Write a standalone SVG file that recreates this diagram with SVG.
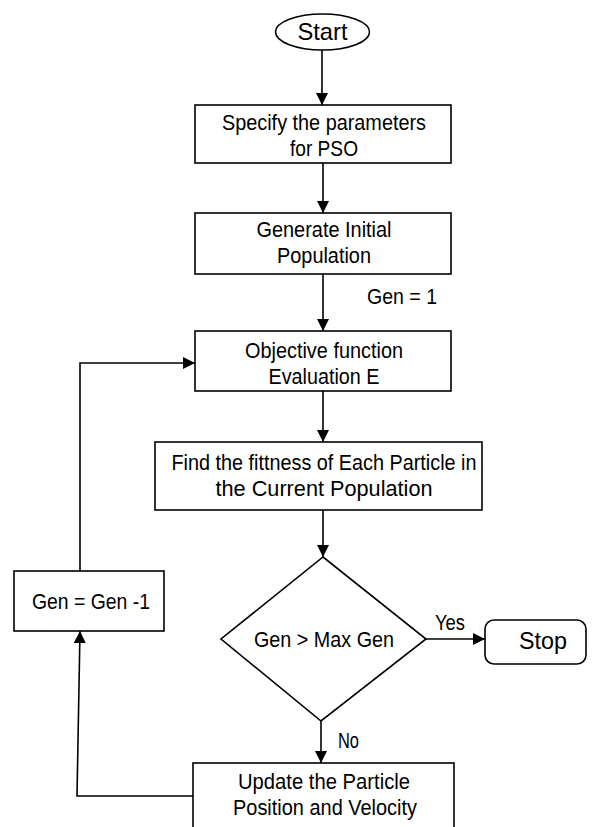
<svg xmlns="http://www.w3.org/2000/svg" width="595" height="827" viewBox="0 0 595 827">
<style>
.box{fill:#fff;stroke:#000;stroke-width:1.6}
.t{font-family:"Liberation Sans",Arial,sans-serif;font-size:22px;fill:#000;text-anchor:middle}
.big{font-size:24px}
.l{text-anchor:start}
.c{fill:none;stroke:#000;stroke-width:1.6}
</style>
<defs>
<marker id="ah" markerWidth="12" markerHeight="12" refX="12" refY="6" orient="auto" markerUnits="userSpaceOnUse">
<path d="M0,0 L12,6 L0,12 Z" fill="#000"/>
</marker>
</defs>
<g id="connectors">
<path class="c" d="M322,50 L322,105" marker-end="url(#ah)"/>
<path class="c" d="M323,163 L323,213" marker-end="url(#ah)"/>
<path class="c" d="M323,274 L323,331" marker-end="url(#ah)"/>
<path class="c" d="M323,391 L323,442" marker-end="url(#ah)"/>
<path class="c" d="M323,510 L323,557" marker-end="url(#ah)"/>
<path class="c" d="M321,721 L321,763" marker-end="url(#ah)"/>
<path class="c" d="M426,639 L485,639" marker-end="url(#ah)"/>
<path class="c" d="M193,796 L77,796 L80,631" marker-end="url(#ah)"/>
<path class="c" d="M80,571 L80,363 L195,363" marker-end="url(#ah)"/>
<text class="t l" x="367" y="304" textLength="70" lengthAdjust="spacingAndGlyphs">Gen = 1</text>
<text class="t l" x="435" y="630" textLength="30" lengthAdjust="spacingAndGlyphs">Yes</text>
<text class="t l" x="338" y="748" textLength="21" lengthAdjust="spacingAndGlyphs">No</text>
</g>
<g id="start">
<ellipse class="box" cx="322.5" cy="32" rx="47" ry="18"/>
<text class="t big" x="322.5" y="40" textLength="50" lengthAdjust="spacingAndGlyphs">Start</text>
</g>
<g id="specify">
<rect class="box" x="195" y="105" width="256" height="58"/>
<text class="t" x="324" y="130" textLength="204" lengthAdjust="spacingAndGlyphs">Specify the parameters</text>
<text class="t" x="324" y="156" textLength="68" lengthAdjust="spacingAndGlyphs">for PSO</text>
</g>
<g id="generate">
<rect class="box" x="195" y="213" width="256" height="61"/>
<text class="t" x="324" y="237" textLength="135" lengthAdjust="spacingAndGlyphs">Generate Initial</text>
<text class="t" x="324" y="263" textLength="94" lengthAdjust="spacingAndGlyphs">Population</text>
</g>
<g id="objective">
<rect class="box" x="195" y="331" width="256" height="60"/>
<text class="t" x="324" y="358" textLength="158" lengthAdjust="spacingAndGlyphs">Objective function</text>
<text class="t" x="324" y="384" textLength="111" lengthAdjust="spacingAndGlyphs">Evaluation E</text>
</g>
<g id="fitness">
<rect class="box" x="155" y="442" width="327" height="68"/>
<text class="t" x="324" y="470" textLength="305" lengthAdjust="spacingAndGlyphs">Find the fittness of Each Particle in</text>
<text class="t" x="324" y="496" textLength="217" lengthAdjust="spacingAndGlyphs">the Current Population</text>
</g>
<g id="decision">
<polygon class="box" points="323,557 426,639 321,721 221,639"/>
<text class="t" x="324" y="647" textLength="140" lengthAdjust="spacingAndGlyphs">Gen &gt; Max Gen</text>
</g>
<g id="stop">
<rect class="box" x="485" y="620" width="101" height="44" rx="9"/>
<text class="t big" x="543" y="649" textLength="48" lengthAdjust="spacingAndGlyphs">Stop</text>
</g>
<g id="decrement">
<rect class="box" x="14" y="571" width="150" height="60"/>
<text class="t" x="91" y="609" textLength="118" lengthAdjust="spacingAndGlyphs">Gen = Gen -1</text>
</g>
<g id="update">
<rect class="box" x="193" y="763" width="261" height="70"/>
<text class="t" x="324" y="789" textLength="172" lengthAdjust="spacingAndGlyphs">Update the Particle</text>
<text class="t" x="325" y="815" textLength="184" lengthAdjust="spacingAndGlyphs">Position and Velocity</text>
</g>
</svg>
